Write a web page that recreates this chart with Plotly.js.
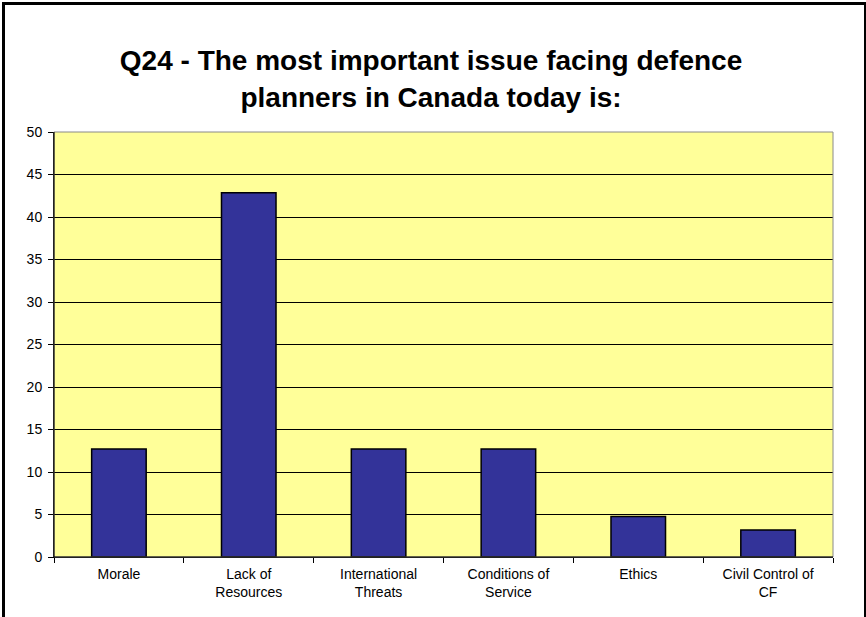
<!DOCTYPE html>
<html>
<head>
<meta charset="utf-8">
<script src="https://cdn.plot.ly/plotly-3.0.1.min.js"></script>
<style>
  html, body { margin: 0; padding: 0; background: #fff; }
  #wrap { position: relative; width: 866px; height: 617px; overflow: hidden; }
  #chart { width: 866px; height: 617px; }
  #frame { position: absolute; left: 2px; top: 2px; width: 859px; height: 640px;
           border-left: 3px solid #000; border-top: 3px solid #000; border-right: 2px solid #000;
           pointer-events: none; }
</style>
</head>
<body>
<div id="wrap">
  <div id="chart"></div>
  <div id="frame"></div>
</div>
<script>
const categories = ["Morale", "Lack of<br>Resources", "International<br>Threats", "Conditions of<br>Service", "Ethics", "Civil Control of<br>CF"];
const values = [12.70, 42.86, 12.70, 12.70, 4.76, 3.17];
const yTicks = [0, 5, 10, 15, 20, 25, 30, 35, 40, 45, 50];

const trace = {
  type: "bar",
  x: categories,
  y: values,
  marker: { color: "#333399", line: { color: "#000000", width: 1.5 } },
  hoverinfo: "skip"
};

const layout = {
  width: 866,
  height: 617,
  margin: { l: 54, r: 33, t: 132, b: 60 },
  paper_bgcolor: "#ffffff",
  plot_bgcolor: "#FFFF99",
  bargap: 0.58,
  showlegend: false,
  font: { family: "Liberation Sans, Arial, sans-serif", size: 13, color: "#000" },
  title: {
    text: "<b>Q24 - The most important issue facing defence<br>planners in Canada today is:</b>",
    font: { family: "Liberation Sans, Arial, sans-serif", size: 28, color: "#000" },
    x: 0.484, xanchor: "center", xref: "paper",
    y: 0.886, yanchor: "middle", yref: "container"
  },
  xaxis: {
    type: "category",
    showgrid: false,
    showline: true, linecolor: "#000", linewidth: 1,
    ticks: "outside", tickson: "boundaries", ticklen: 5, tickcolor: "#000",
    tickfont: { size: 14, color: "#000" },
    ticklabelstandoff: 4,
    fixedrange: true
  },
  yaxis: {
    range: [0, 50],
    tickvals: yTicks,
    ticktext: yTicks.map(String),
    showgrid: true, gridcolor: "#000", gridwidth: 1,
    showline: true, linecolor: "#000", linewidth: 1,
    ticks: "outside", ticklen: 5, tickcolor: "#000",
    tickfont: { size: 14, color: "#000" },
    ticklabelstandoff: 3,
    zeroline: false,
    fixedrange: true
  },
  shapes: [
    { type: "rect", xref: "paper", yref: "paper", x0: 0, x1: 1, y0: 0, y1: 1,
      line: { color: "#8a8a8a", width: 1 }, layer: "above" },
    { type: "line", xref: "paper", yref: "paper", x0: 0, x1: 0, y0: 0, y1: 1,
      line: { color: "#000", width: 1 }, layer: "above" },
    { type: "line", xref: "paper", yref: "paper", x0: 0, x1: 1, y0: 0, y1: 0,
      line: { color: "#000", width: 1 }, layer: "above" }
  ]
};

Plotly.newPlot("chart", [trace], layout, { staticPlot: true, displayModeBar: false });
</script>
</body>
</html>
